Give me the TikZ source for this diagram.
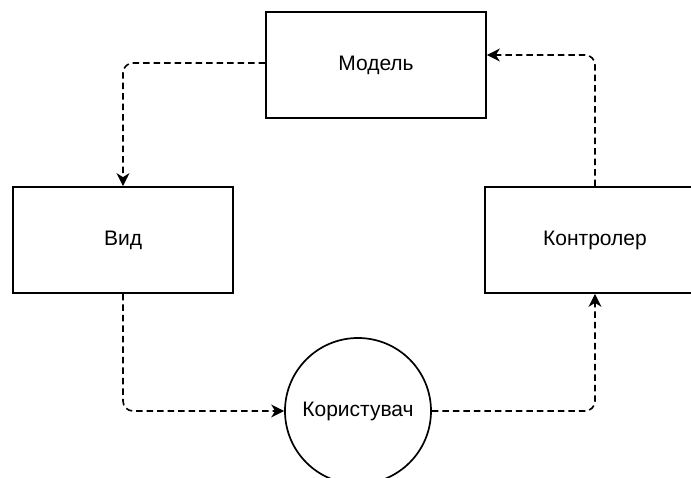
\documentclass[tikz,border=0pt]{standalone}
\usepackage{fontspec}
\setmainfont{Liberation Sans}
\usetikzlibrary{arrows.meta}
\begin{document}
\begin{tikzpicture}[x=1pt,y=-1pt,
  label font/.style={font=\fontsize{21}{25}\selectfont},
  box/.style={draw=black, line width=1.7pt, minimum width=220pt, minimum height=106pt, inner sep=0pt, label font},
  user/.style={circle, draw=black, line width=1.7pt, minimum size=146pt, inner sep=0pt, label font},
  flow/.style={line width=1.6pt, dash pattern=on 6.5pt off 4pt, rounded corners=10pt,
    -{Stealth[length=13pt,width=13pt,inset=4pt]}}]
\useasboundingbox (0,0) rectangle (691,478);
\clip (0,0) rectangle (691,478);
% components
\node[box] (model) at (376,65) {Модель};
\node[box] (view) at (123,240) {Вид};
\node[box] (ctrl) at (595,240) {Контролер};
\node[user] (user) at (358,411) {Користувач};
% dashed flow between them
\draw[flow] ([yshift=2pt]model.west) -| (view.north);
\draw[flow] (view.south) |- (user.west);
\draw[flow] (user.east) -| (ctrl.south);
\draw[flow] (ctrl.north) |- ([yshift=10pt]model.east);
\end{tikzpicture}
\end{document}
